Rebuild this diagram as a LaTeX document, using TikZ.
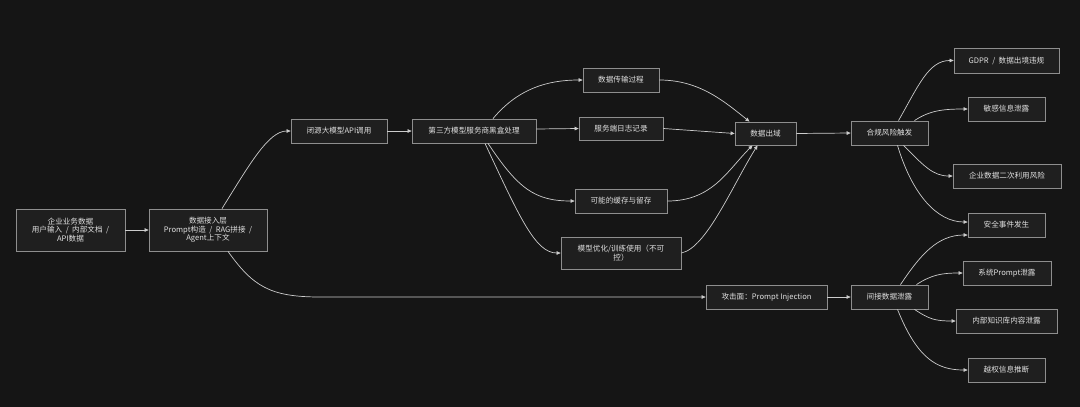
\documentclass[tikz,border=0pt]{standalone}
\usepackage{fontspec}
\setmainfont{Noto Sans CJK SC}
\usetikzlibrary{arrows.meta}
\definecolor{bg}{HTML}{151515}
\definecolor{boxfill}{HTML}{1F1F1F}
\definecolor{boxline}{HTML}{8E8E8E}
\definecolor{txt}{HTML}{E0E0E0}
\definecolor{edgec}{HTML}{CCCCCC}
\newcommand\slsep{\hspace{3.5pt}/\hspace{3.5pt}}
\begin{document}
\begin{tikzpicture}[x=1pt,y=-1pt,
  box/.style={draw=boxline, fill=boxfill, text=txt, line width=0.8pt, inner sep=0pt, align=center, font=\fontsize{7.6}{8.6}\selectfont},
  sz/.style 2 args={minimum width=#1pt, minimum height=#2pt},
  edge/.style={draw=edgec, line width=0.7pt, -{Triangle[length=4pt,width=3.6pt]}}]
\useasboundingbox (0,0) rectangle (1080,407);
\fill[bg] (0,0) rectangle (1080,407);

\node[box, sz={109}{42}] (A) at (70.5,230) {企业业务数据\\用户输入\slsep 内部文档\hspace{3.5pt}/\\API数据};
\node[box, sz={118}{42}] (B) at (208,230) {数据接入层\\Prompt构造\slsep RAG拼接\hspace{3.5pt}/\\Agent上下文};
\node[box, sz={96}{24}] (C) at (339,131) {闭源大模型API调用};
\node[box, sz={124}{24}] (D) at (474,131) {第三方模型服务商黑盒处理};
\node[box, sz={76}{24}] (E) at (621,80) {数据传输过程};
\node[box, sz={84}{23}] (F) at (621,128.5) {服务端日志记录};
\node[box, sz={61}{23}] (G) at (765.5,133.5) {数据出域};
\node[box, sz={92}{24}] (H) at (621,201) {可能的缓存与留存};
\node[box, sz={120}{32}] (I) at (621,253) {模型优化/训练使用（不可\\控）};
\node[box, sz={77}{24}] (J) at (889.5,133) {合规风险触发};
\node[box, sz={105}{25}] (K) at (1006.5,60.5) {GDPR\slsep 数据出境违规};
\node[box, sz={77}{24}] (L) at (1006.5,109) {敏感信息泄露};
\node[box, sz={108}{24}] (M) at (1007,176) {企业数据二次利用风险};
\node[box, sz={77}{24}] (N) at (1006.5,225) {安全事件发生};
\node[box, sz={88}{24}] (O) at (1007,273) {系统Prompt泄露};
\node[box, sz={121}{24}] (P) at (766.5,297) {攻击面：Prompt Injection};
\node[box, sz={77}{24}] (Q) at (889.5,297) {间接数据泄露};
\node[box, sz={101}{24}] (R) at (1006.5,321) {内部知识库内容泄露};
\node[box, sz={77}{24}] (S) at (1006.5,370) {越权信息推断};
\coordinate (bend) at (320,297);

\draw[edge] (A.east) -- (B.west);
\draw[edge] ([xshift=14pt]B.north) .. controls +(28,-45) and +(-22,0) .. (C.west);
\draw[edge] ([xshift=20pt]B.south) .. controls +(25,35) and +(-50,0) .. (bend) -- (P.west);
\draw[edge] (C.east) -- (D.west);
\draw[edge] ([xshift=19pt]D.north) .. controls +(25,-30) and +(-35,0) .. (E.west);
\draw[edge] ([yshift=2pt]D.east) -- (F.west);
\draw[edge] ([xshift=14pt]D.south) .. controls +(30,45) and +(-40,0) .. (H.west);
\draw[edge] ([xshift=11pt]D.south) .. controls +(35,75) and +(-25,0) .. (I.west);
\draw[edge] (E.east) .. controls +(40,0) and +(-25,-20) .. ([xshift=-16pt]G.north);
\draw[edge] (F.east) -- (G.west);
\draw[edge] (H.east) .. controls +(45,0) and +(-25,25) .. ([xshift=-13pt]G.south);
\draw[edge] (I.east) .. controls +(25,-5) and +(-25,40) .. ([xshift=-8pt]G.south);
\draw[edge] (G.east) -- (J.west);
\draw[edge] ([xshift=9pt]J.north) .. controls +(20,-35) and +(-25,0) .. (K.west);
\draw[edge] ([xshift=25pt]J.north) .. controls +(15,-10) and +(-25,0) .. (L.west);
\draw[edge] ([xshift=14pt]J.south) .. controls +(20,20) and +(-20,0) .. (M.west);
\draw[edge] ([xshift=8pt]J.south) .. controls +(15,50) and +(-30,0) .. ([yshift=3pt]N.west);
\draw[edge] (P.east) -- (Q.west);
\draw[edge] ([xshift=11pt]Q.north) .. controls +(20,-30) and +(-30,0) .. ([yshift=-10pt]N.west);
\draw[edge] ([xshift=27pt]Q.north) .. controls +(15,-10) and +(-20,0) .. (O.west);
\draw[edge] ([xshift=25pt]Q.south) .. controls +(15,10) and +(-20,0) .. (R.west);
\draw[edge] ([xshift=8pt]Q.south) .. controls +(20,50) and +(-30,0) .. (S.west);
\end{tikzpicture}
\end{document}
